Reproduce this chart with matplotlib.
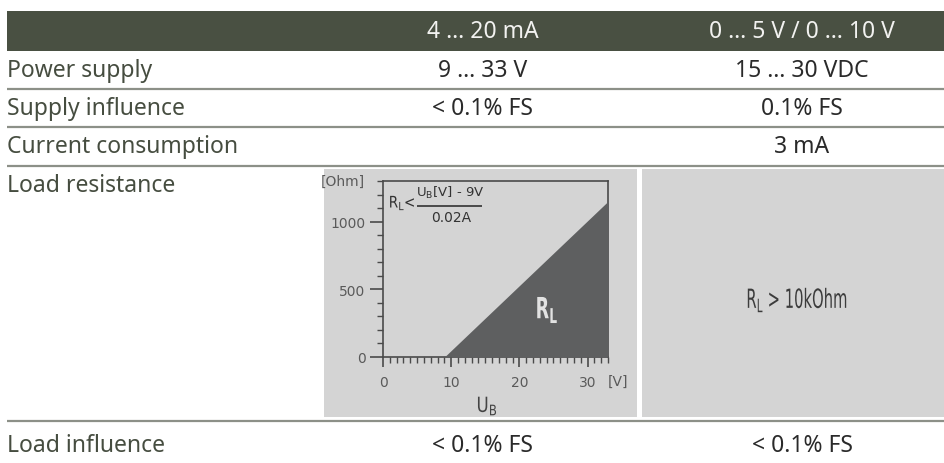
import matplotlib
matplotlib.use('Agg')
import matplotlib.pyplot as plt
from matplotlib.patches import Rectangle, PathPatch
from matplotlib.ticker import MultipleLocator
from matplotlib.textpath import TextPath
from matplotlib.font_manager import FontProperties
from matplotlib.transforms import Affine2D

# table content
headers = ['4 … 20 mA', '0 … 5 V / 0 … 10 V']
rows = ['Power supply', 'Supply influence', 'Current consumption', 'Load resistance', 'Load influence']
col_ma = ['9 … 33 V', '< 0.1% FS', '', '', '< 0.1% FS']
col_v = ['15 … 30 VDC', '0.1% FS', '3 mA', '', '< 0.1% FS']

# load resistance diagram (4..20 mA)
ub = [9, 33]
rl = [0, 1150]
xticks = [0, 10, 20, 30]
yticks = [0, 500, 1000]

W, H = 945, 464
txt = '#464d40'
sep = '#8c9088'
panel = '#d4d4d4'
tfont = ['Noto Sans', 'DejaVu Sans']


def narrow(a, x, y, s, size, color, sx=0.72, weight='normal', zorder=5):
    # condensed text drawn as a squeezed path (pixel coords, y down)
    tp = TextPath((0, 0), s, size=size, prop=FontProperties(family='DejaVu Sans', weight=weight))
    bb = tp.get_extents()
    k = 100 / 72
    tr = Affine2D().translate(-(bb.x0 + bb.x1) / 2, -(bb.y0 + bb.y1) / 2).scale(sx * k, -k).translate(x, y)
    a.add_patch(PathPatch(tr.transform_path(tp), color=color, lw=0, zorder=zorder))


fig = plt.figure(figsize=(W / 100, H / 100), dpi=100)
ax = fig.add_axes([0, 0, 1, 1])
ax.set_xlim(0, W)
ax.set_ylim(H, 0)
ax.axis('off')

# header bar
ax.add_patch(Rectangle((7, 12), W - 7, 40, color='#495042', lw=0))
cx = [483, 802]
for x, h in zip(cx, headers):
    ax.text(x, 32, h, color='#f2f2f0', fontsize=16.5, family=tfont, ha='center', va='center')

row_y = [71, 109, 147, 186, 446]
line_y = [90, 128, 167, 422]
for y in line_y:
    ax.hlines(y, 7, W, color=sep, lw=1.6)

for y, r, a, b in zip(row_y, rows, col_ma, col_v):
    ax.text(7, y, r, color=txt, fontsize=16.5, family=tfont, ha='left', va='center')
    ax.text(cx[0], y, a, color='#2a2a2a', fontsize=16.5, family=tfont, ha='center', va='center')
    ax.text(cx[1], y, b, color='#2a2a2a', fontsize=16.5, family=tfont, ha='center', va='center')

# grey panels
ax.add_patch(Rectangle((324, 170), 313, 248, color=panel, lw=0))
ax.add_patch(Rectangle((642, 170), W - 642, 248, color=panel, lw=0))
narrow(ax, 797, 301, r'R$\mathregular{_L}$ > 10kOhm', 19, '#3c3c3c', sx=0.56)

# diagram axes
x0, x1, y0, y1 = 383, 608, 358, 182
ax2 = fig.add_axes([x0 / W, (H - y0) / H, (x1 - x0) / W, (y0 - y1) / H])
ax2.set_facecolor('none')
ax2.fill_between(ub, 0, rl, color='#5e5f60', lw=0, zorder=3)
ax2.set_xlim(0, 33)
ax2.set_ylim(0, 1300)
ax2.set_xticks(xticks)
ax2.set_yticks(yticks)
ax2.xaxis.set_minor_locator(MultipleLocator(1))
ax2.yaxis.set_minor_locator(MultipleLocator(100))
ac = '#4a4a4a'
for s in ax2.spines.values():
    s.set_color(ac)
    s.set_linewidth(1.2)
ax2.tick_params(axis='x', which='major', length=7, width=1.2, color=ac, pad=6,
                labelsize=10, labelcolor='#5a5a5a')
ax2.tick_params(axis='y', which='major', length=9.5, width=1.2, color=ac, pad=3,
                labelsize=10, labelcolor='#5a5a5a')
ax2.tick_params(which='minor', length=4, width=1, color=ac)
ax2.text(1.045, -0.135, '[V]', transform=ax2.transAxes, fontsize=10, color='#5a5a5a',
         ha='center', va='center')
ax2.text(-0.18, 1.0, '[Ohm]', transform=ax2.transAxes, fontsize=10, color='#5a5a5a',
         ha='center', va='center')

# overlay for labels on top of the diagram
ax3 = fig.add_axes([0, 0, 1, 1])
ax3.set_xlim(0, W)
ax3.set_ylim(H, 0)
ax3.axis('off')
narrow(ax3, 487, 407, r'U$\mathregular{_B}$', 15, '#444444', sx=0.8)
narrow(ax3, 547, 311, r'R$\mathregular{_L}$', 21, '#e2e2e2', sx=0.6, weight='bold')

# formula
narrow(ax3, 402, 204, r'R$\mathregular{_L}$<', 11.5, '#333333', sx=0.85)
ax3.text(450, 193, r'U$\mathregular{_B}$[V] - 9V', color='#333333', fontsize=9.5, ha='center', va='center')
ax3.hlines(207, 417, 482, color='#333333', lw=1.2)
ax3.text(451, 218, '0.02A', color='#333333', fontsize=10, ha='center', va='center')

fig.savefig('out.png', dpi=100)
